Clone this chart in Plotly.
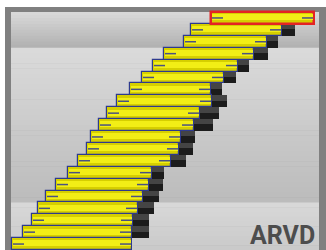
import plotly.graph_objects as go

# Gantt-style rows, bottom (0) to top (19)
rows = list(range(20))
starts = [12, 23, 32, 38, 46, 56, 68, 78, 87, 91, 99, 107, 117, 130, 142, 153, 164, 184, 191, 211]
ends = [132, 132, 133, 138, 143, 149, 152, 171, 179, 181, 194, 200, 212, 211, 224, 238, 254, 267, 282, 314]
shadow_ends = [None, 149, 149, 154, 159, 163, 164, 186, 193, 195, 213, 219, 227, 222, 236, 249, 268, 278, 295, None]
highlight_row = 19
label = "ARVD"

W, H = 326, 250
ROW_PX = 11.9

def py(p):
    return 1 - p / H

def px(p):
    return p / W

shapes = []
# outer frame
shapes.append(dict(type="rect", xref="paper", yref="paper", x0=px(5), x1=1, y0=0, y1=py(7),
                   fillcolor="#808080", line_width=0, layer="below"))

def band(y0p, y1p, c0, c1, n):
    step = (y1p - y0p) / n
    for i in range(n):
        t = i / max(n - 1, 1)
        v = round(c0 + (c1 - c0) * t)
        col = f"rgb({v},{v},{v})"
        shapes.append(dict(type="rect", xref="paper", yref="paper", x0=px(11), x1=px(319),
                           y0=py(y0p + step * (i + 1)) - 0.002, y1=py(y0p + step * i),
                           fillcolor=col, line_width=0, layer="below"))

band(12, 47.7, 216, 178, 12)
band(47.7, 202.4, 218, 188, 30)
band(202.4, 250, 216, 202, 10)

fig = go.Figure()

# shadows
sh_rows = [r for r, s in zip(rows, shadow_ends) if s is not None]
sh_base = [e for e, s in zip(ends, shadow_ends) if s is not None]
sh_len = [s - e for e, s in zip(ends, shadow_ends) if s is not None]
fig.add_trace(go.Bar(y=sh_rows, x=sh_len, base=sh_base, orientation="h", width=1,
                     marker=dict(color="#444444", line_width=0), hoverinfo="skip"))
fig.add_trace(go.Bar(y=sh_rows, x=sh_len, base=sh_base, orientation="h", width=0.55, offset=-0.5,
                     marker=dict(color="#1c1c1c", line_width=0), hoverinfo="skip"))

# main bars
lengths = [e - s for s, e in zip(starts, ends)]
line_cols = ["#e42424" if r == highlight_row else "#2e3a8e" for r in rows]
line_w = [2.5 if r == highlight_row else 1.2 for r in rows]
fig.add_trace(go.Bar(y=rows, x=lengths, base=starts, orientation="h", width=1,
                     marker=dict(color="#d6cf00", line=dict(color=line_cols, width=line_w)),
                     hoverinfo="skip"))
fig.add_trace(go.Bar(y=rows, x=[l - 2 for l in lengths], base=[s + 1 for s in starts],
                     orientation="h", width=0.5, offset=-0.2,
                     marker=dict(color="#f2ee16", line_width=0), hoverinfo="skip"))

# end ticks inside bars
mx, my = [], []
for r, s, e in zip(rows, starts, ends):
    mx += [s + 1, s + 12, None, e - 12, e - 1, None]
    my += [r, r, None, r, r, None]
fig.add_trace(go.Scatter(x=mx, y=my, mode="lines", line=dict(color="#4a5282", width=1.5),
                         hoverinfo="skip"))

fig.add_annotation(text=label, xref="paper", yref="paper", x=px(317), y=py(235),
                   xanchor="right", yanchor="middle", showarrow=False,
                   font=dict(family="Liberation Sans Narrow, Roboto, Arial, sans-serif", size=25,
                             color="#4d4d4d", weight="bold"))

fig.update_layout(
    width=W, height=H, margin=dict(l=0, r=0, t=0, b=0),
    paper_bgcolor="white", plot_bgcolor="rgba(0,0,0,0)",
    barmode="overlay", bargap=0, showlegend=False, shapes=shapes,
    xaxis=dict(range=[0, W], visible=False, fixedrange=True),
    yaxis=dict(range=[-0.5, -0.5 + H / ROW_PX], visible=False, fixedrange=True),
)

fig.write_html("out.html", config={"displayModeBar": False},
               post_script="document.body.style.margin='0';document.body.style.overflow='hidden';")
